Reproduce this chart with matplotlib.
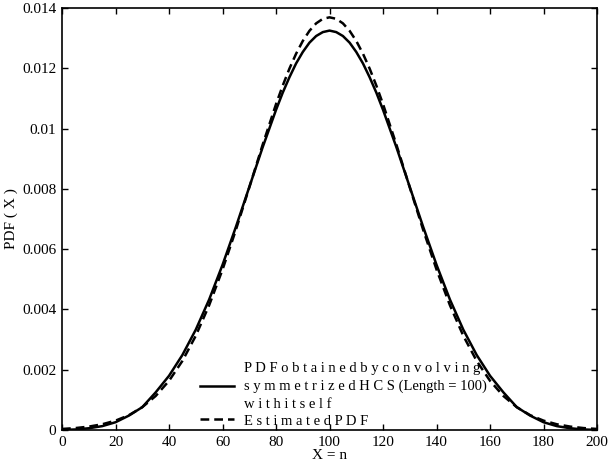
import matplotlib
matplotlib.use("Agg")
import matplotlib.pyplot as plt

x = [0, 5, 10, 15, 20, 25, 30, 35, 40, 45, 50, 55, 60, 65, 70, 75, 80, 82.5, 85, 87.5,
     90, 92.5, 95, 97.5, 100, 102.5, 105, 107.5, 110, 112.5, 115, 117.5, 120, 125, 130,
     135, 140, 145, 150, 155, 160, 165, 170, 175, 180, 185, 190, 195, 200]

pdf_conv = [0.000005, 0.00002, 0.00006, 0.00013, 0.00026, 0.00048, 0.00076, 0.00125,
            0.00180, 0.00249, 0.00333, 0.00433, 0.00548, 0.00674, 0.00806, 0.00938,
            0.01062, 0.01119, 0.01170, 0.01216, 0.01254, 0.01285, 0.01307, 0.01320,
            0.01325,
            0.01320, 0.01307, 0.01285, 0.01254, 0.01216, 0.01170, 0.01119, 0.01062,
            0.00938, 0.00806, 0.00674, 0.00548, 0.00433, 0.00333, 0.00249, 0.00180,
            0.00125, 0.00076, 0.00048, 0.00026, 0.00013, 0.00006, 0.00002, 0.000005]

pdf_est = [0.000037, 0.000066, 0.000115, 0.000192, 0.000313, 0.000494, 0.000759,
           0.001130, 0.001633, 0.002294, 0.003128, 0.004141, 0.005323, 0.006641,
           0.008047, 0.009465, 0.010810, 0.011425, 0.011987, 0.012483, 0.012905,
           0.013243, 0.013490, 0.013640, 0.013690,
           0.013640, 0.013490, 0.013243, 0.012905, 0.012483, 0.011987, 0.011425,
           0.010810, 0.009465, 0.008047, 0.006641, 0.005323, 0.004141, 0.003128,
           0.002294, 0.001633, 0.001130, 0.000759, 0.000494, 0.000313, 0.000192,
           0.000115, 0.000066, 0.000037]

xticks = [0, 20, 40, 60, 80, 100, 120, 140, 160, 180, 200]
yticks = [0, 0.002, 0.004, 0.006, 0.008, 0.01, 0.012, 0.014]
ytick_labels = ["0", "0.002", "0.004", "0.006", "0.008", "0.01", "0.012", "0.014"]

def spaced(s):
    return " ".join(s)

label1 = (spaced("PDFobtainedbyconvolving") + "\n"
          + spaced("symmetrizedHCS") + " (Length = 100)\n"
          + spaced("withitself"))
label2 = spaced("EstimatedPDF")

plt.rcParams['font.family'] = ['Liberation Serif', 'DejaVu Serif']
plt.rcParams['font.size'] = 11

fig = plt.figure(figsize=(6.08, 4.69), dpi=100)
ax = fig.add_axes([0.102, 0.083, 0.88, 0.9])

ax.plot(x, pdf_conv, color='black', lw=1.8, ls='-', label=label1)
ax.plot(x, pdf_est, color='black', lw=1.8, ls=(0, (3.5, 2)), label=label2)

ax.set_xlim(0, 200)
ax.set_ylim(0, 0.014)
ax.set_xticks(xticks)
ax.set_yticks(yticks)
ax.set_yticklabels(ytick_labels)
ax.tick_params(direction='in', top=True, right=True, length=4, width=1, pad=4)
for s in ax.spines.values():
    s.set_linewidth(1.2)

ax.set_xlabel("X = n", labelpad=0)
ax.set_ylabel("PDF ( X )", labelpad=3)

leg = ax.legend(loc='lower left', bbox_to_anchor=(0.258, 0.006), frameon=False,
                handlelength=2.3, handletextpad=0.68, labelspacing=0.25,
                borderaxespad=0, borderpad=0, fontsize=10.5)
for t in leg.get_texts():
    t.set_linespacing(1.47)

fig.savefig("out.png", dpi=100)
